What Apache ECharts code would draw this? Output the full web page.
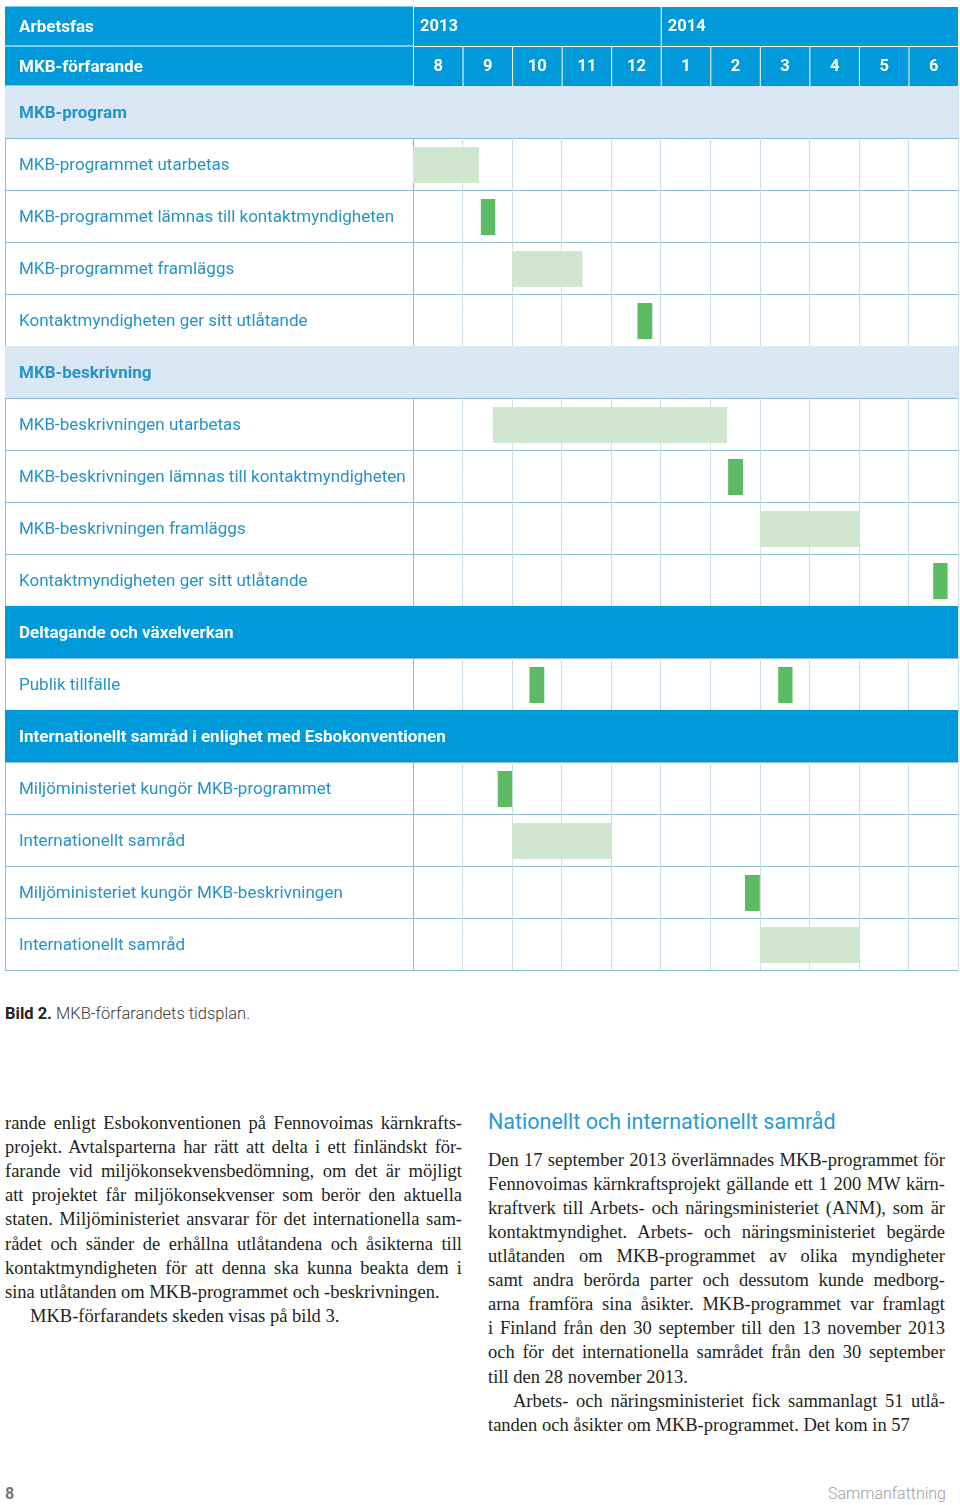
<!DOCTYPE html>
<html><head><meta charset="utf-8">
<script src="https://cdn.jsdelivr.net/npm/echarts@6/dist/echarts.min.js"></script>
<style>
html,body{margin:0;padding:0;background:#fff;}
#page{position:relative;width:960px;height:1505px;overflow:hidden;background:#fff;}
#chart{position:absolute;left:0;top:0;width:960px;height:985px;}
.t{position:absolute;white-space:nowrap;line-height:24px;height:24px;}
.serif{font-family:"Liberation Serif","DejaVu Serif",serif;font-size:18.5px;color:#231f20;}
.j{text-align:justify;text-align-last:justify;}
.cap{font-family:Roboto,"Liberation Sans",sans-serif;font-size:16.5px;color:#3a3a3a;}
</style></head>
<body><div id="page"><div id="chart"></div>
<div class="t cap" style="left:5px;top:1002px;"><b style="color:#222">Bild 2.</b> <span style="font-weight:300">MKB-förfarandets tidsplan.</span></div>

<div class="t serif j" style="left:5px;top:1111px;width:457px;">rande enligt Esbokonventionen på Fennovoimas kärnkrafts-</div>
<div class="t serif j" style="left:5px;top:1135px;width:457px;">projekt. Avtalsparterna har rätt att delta i ett finländskt för-</div>
<div class="t serif j" style="left:5px;top:1159px;width:457px;">farande vid miljökonsekvensbedömning, om det är möjligt</div>
<div class="t serif j" style="left:5px;top:1183px;width:457px;">att projektet får miljökonsekvenser som berör den aktuella</div>
<div class="t serif j" style="left:5px;top:1207px;width:457px;">staten. Miljöministeriet ansvarar för det internationella sam-</div>
<div class="t serif j" style="left:5px;top:1232px;width:457px;">rådet och sänder de erhållna utlåtandena och åsikterna till</div>
<div class="t serif j" style="left:5px;top:1256px;width:457px;">kontaktmyndigheten för att denna ska kunna beakta dem i</div>
<div class="t serif" style="left:5px;top:1280px;">sina utlåtanden om MKB-programmet och -beskrivningen.</div>
<div class="t serif" style="left:30px;top:1304px;">MKB-förfarandets skeden visas på bild 3.</div>

<div class="t" style="left:488px;top:1108px;height:28px;line-height:28px;font-family:Roboto,'Liberation Sans',sans-serif;font-size:21.5px;color:#2a9ad6;">Nationellt och internationellt samråd</div>
<div class="t serif j" style="left:488px;top:1148px;width:457px;">Den 17 september 2013 överlämnades MKB-programmet för</div>
<div class="t serif j" style="left:488px;top:1172px;width:457px;">Fennovoimas kärnkraftsprojekt gällande ett 1 200 MW kärn-</div>
<div class="t serif j" style="left:488px;top:1196px;width:457px;">kraftverk till Arbets- och näringsministeriet (ANM), som är</div>
<div class="t serif j" style="left:488px;top:1220px;width:457px;">kontaktmyndighet. Arbets- och näringsministeriet begärde</div>
<div class="t serif j" style="left:488px;top:1244px;width:457px;">utlåtanden om MKB-programmet av olika myndigheter</div>
<div class="t serif j" style="left:488px;top:1268px;width:457px;">samt andra berörda parter och dessutom kunde medborg-</div>
<div class="t serif j" style="left:488px;top:1292px;width:457px;">arna framföra sina åsikter. MKB-programmet var framlagt</div>
<div class="t serif j" style="left:488px;top:1316px;width:457px;">i Finland från den 30 september till den 13 november 2013</div>
<div class="t serif j" style="left:488px;top:1340px;width:457px;">och för det internationella samrådet från den 30 september</div>
<div class="t serif" style="left:488px;top:1365px;">till den 28 november 2013.</div>
<div class="t serif j" style="left:513px;top:1389px;width:432px;">Arbets- och näringsministeriet fick sammanlagt 51 utlå-</div>
<div class="t serif" style="left:488px;top:1413px;">tanden och åsikter om MKB-programmet. Det kom in 57</div>

<div class="t" style="left:5px;top:1482px;font-family:Roboto,'Liberation Sans',sans-serif;font-size:16px;font-weight:bold;color:#777;">8</div>
<div class="t" style="right:14px;top:1482px;font-family:Roboto,'Liberation Sans',sans-serif;font-size:16px;font-weight:300;color:#a0a0a0;">Sammanfattning</div>
</div>
<script>
// ---- data ----
const headerLabels = ['Arbetsfas', 'MKB-förfarande'];
const months = ['8', '9', '10', '11', '12', '1', '2', '3', '4', '5', '6'];
const years = ['2013', '2014'];
const rowLabels = [
  'MKB-program',
  'MKB-programmet utarbetas',
  'MKB-programmet lämnas till kontaktmyndigheten',
  'MKB-programmet framläggs',
  'Kontaktmyndigheten ger sitt utlåtande',
  'MKB-beskrivning',
  'MKB-beskrivningen utarbetas',
  'MKB-beskrivningen lämnas till kontaktmyndigheten',
  'MKB-beskrivningen framläggs',
  'Kontaktmyndigheten ger sitt utlåtande',
  'Deltagande och växelverkan',
  'Publik tillfälle',
  'Internationellt samråd i enlighet med Esbokonventionen',
  'Miljöministeriet kungör MKB-programmet',
  'Internationellt samråd',
  'Miljöministeriet kungör MKB-beskrivningen',
  'Internationellt samråd'
];
// 'light' = light section, 'dark' = dark section, 'task' = normal row
const rowKinds = ['light','task','task','task','task','light','task','task','task','task','dark','task','dark','task','task','task','task'];
// [row, start, end] in months counted from start of Aug 2013
const phases = [[1, 0, 1.33], [3, 2.0, 3.42], [6, 1.61, 6.34], [8, 7.0, 9.0], [14, 2.0, 4.0], [16, 7.0, 9.0]];
const milestones = [[2, 1.37, 1.66], [4, 4.53, 4.83], [7, 6.36, 6.66], [9, 10.5, 10.79], [11, 2.35, 2.65], [11, 7.37, 7.66], [13, 1.71, 2.0], [15, 6.7, 7.0]];

// ---- style ----
const BLUE = '#0099d9', LIGHT = '#dae8f6', TEXT = '#2494c8';
const PHASE = '#d0e6cf', MILE = '#5dbb63';
const HLINE = '#8cbcd5', VLINE = '#cadfeb';
const FONT = 'Roboto, "Liberation Sans", sans-serif';

// header cells built from months/years
const headerCells = [];
const yearStarts = [0];
months.forEach((m, i) => { if (i > 0 && m === '1') yearStarts.push(i); });
yearStarts.forEach((s, k) => {
  const e = k + 1 < yearStarts.length ? yearStarts[k + 1] : months.length;
  headerCells.push({ value: [s, e, 0], text: years[k] });
});
months.forEach((m, i) => headerCells.push({ value: [i, i + 1, 1], text: m }));

const rowIdx = rowLabels.map((_, i) => String(i));
const chart = echarts.init(document.getElementById('chart'));

function headerCell(params, api) {
  const row = api.value(2);
  const s = api.coord([api.value(0), row]);
  const e = api.coord([api.value(1), row]);
  const h = api.size([0, 1])[1];
  const top = s[1] - h / 2;
  const isYear = row === 0;
  return {
    type: 'group',
    children: [
      { type: 'rect', shape: { x: s[0] + 1, y: top + 1, width: e[0] - s[0] - 1, height: h - 1 }, style: { fill: BLUE } },
      { type: 'text', style: { text: headerCells[params.dataIndex].text, x: isYear ? s[0] + 7 : (s[0] + e[0]) / 2 + 0.5, y: s[1] + 1, align: isYear ? 'left' : 'center', verticalAlign: 'middle', fill: '#fff', font: 'bold 16.5px ' + FONT } }
    ]
  };
}
function taskRect(color) {
  return function (params, api) {
    const row = api.value(0);
    const s = api.coord([api.value(1), row]);
    const e = api.coord([api.value(2), row]);
    const bh = 36;
    return { type: 'rect', shape: { x: s[0], y: s[1] - bh / 2 + 1, width: e[0] - s[0], height: bh }, style: { fill: color } };
  };
}

const labelData = rowLabels.map((t, i) => {
  const k = rowKinds[i];
  return {
    value: 1,
    itemStyle: { color: k === 'light' ? LIGHT : k === 'dark' ? BLUE : 'rgba(0,0,0,0)' },
    label: { color: k === 'dark' ? '#fff' : TEXT, fontWeight: k === 'task' ? 'normal' : 'bold', fontSize: k === 'task' ? 17 : 17 }
  };
});
const sectionData = rowKinds.map(k => k === 'task' ? '-' : { value: months.length, itemStyle: { color: k === 'light' ? LIGHT : BLUE } });

chart.setOption({
  animation: false,
  grid: [
    { left: 5, top: 6, width: 408, height: 80 },
    { left: 413, top: 6, width: 545, height: 80 },
    { left: 5, top: 86, width: 408, height: 884 },
    { left: 413, top: 86, width: 545, height: 884 }
  ],
  xAxis: [
    { gridIndex: 0, type: 'value', min: 0, max: 1, show: false },
    { gridIndex: 1, type: 'value', min: 0, max: months.length, show: false },
    { gridIndex: 2, type: 'value', min: 0, max: 1, axisLine: { show: true, lineStyle: { color: HLINE } }, axisTick: { show: false }, axisLabel: { show: false }, splitLine: { show: false } },
    { gridIndex: 3, type: 'value', min: 0, max: months.length, interval: 1, axisLine: { show: true, lineStyle: { color: HLINE } }, axisTick: { show: false }, axisLabel: { show: false }, splitLine: { show: true, lineStyle: { color: VLINE, width: 1 } } }
  ],
  yAxis: [
    { gridIndex: 0, type: 'category', inverse: true, data: ['0', '1'], show: false },
    { gridIndex: 1, type: 'category', inverse: true, data: ['0', '1'], show: false },
    { gridIndex: 2, type: 'category', inverse: true, data: rowIdx, axisLine: { show: true, lineStyle: { color: HLINE } }, axisTick: { show: false }, axisLabel: { show: false }, splitLine: { show: true, lineStyle: { color: HLINE } } },
    { gridIndex: 3, type: 'category', inverse: true, position: 'right', data: rowIdx, axisLine: { show: true, lineStyle: { color: HLINE } }, axisTick: { show: false }, axisLabel: { show: false }, splitLine: { show: true, lineStyle: { color: HLINE } } }
  ],
  series: [
    { type: 'bar', xAxisIndex: 0, yAxisIndex: 0, barWidth: 39, data: headerLabels.map(() => 1), itemStyle: { color: BLUE },
      label: { show: true, position: 'insideLeft', distance: 14, offset: [0, 2], formatter: p => headerLabels[p.dataIndex], color: '#fff', fontSize: 17, fontWeight: 'bold', fontFamily: FONT } },
    { type: 'custom', xAxisIndex: 1, yAxisIndex: 1, renderItem: headerCell, encode: { x: [0, 1], y: 2 }, data: headerCells.map(c => c.value) },
    { type: 'bar', xAxisIndex: 3, yAxisIndex: 3, barWidth: '100%', data: sectionData },
    { type: 'custom', xAxisIndex: 3, yAxisIndex: 3, renderItem: taskRect(PHASE), encode: { x: [1, 2], y: 0 }, data: phases },
    { type: 'custom', xAxisIndex: 3, yAxisIndex: 3, renderItem: taskRect(MILE), encode: { x: [1, 2], y: 0 }, data: milestones },
    { type: 'bar', xAxisIndex: 2, yAxisIndex: 2, barWidth: '100%', z: 4, data: labelData,
      label: { show: true, position: 'insideLeft', distance: 14, offset: [0, 2], formatter: p => rowLabels[p.dataIndex], fontSize: 17, fontFamily: FONT } }
  ]
});
</script>
</body></html>
